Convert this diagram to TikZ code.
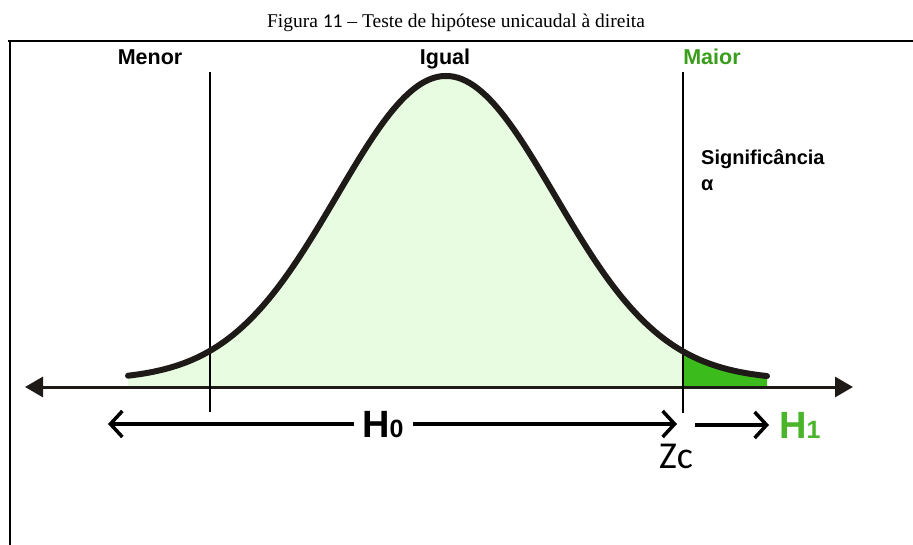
\documentclass[tikz,border=0pt]{standalone}
\usepackage{fontspec}
\setmainfont{Liberation Serif}
\newfontfamily\arialf{Liberation Sans}
\newfontfamily\carlitof{Carlito}
\usetikzlibrary{arrows.meta}
\definecolor{lightfill}{HTML}{E8FCE2}
\definecolor{darkfill}{HTML}{3CBC1C}
\definecolor{maiorgreen}{HTML}{3A9E1C}
\definecolor{hgreen}{HTML}{4AB52A}
\definecolor{curveblack}{HTML}{1E1A18}
\begin{document}
\begin{tikzpicture}[x=1pt,y=-1pt,
  declare function={g(\x)=386-6-304*exp(-0.5*((\x-446)/109)^2);},
  toplabel/.style={font=\arialf\bfseries\fontsize{21.5}{21.5}\selectfont, inner sep=0pt, anchor=base},
  frameline/.style={line width=2.5pt, black},
  divider/.style={line width=1.5pt, black},
  axisline/.style={line width=3pt, curveblack, {Triangle[length=18pt,width=20pt]}-{Triangle[length=18pt,width=20pt]}},
  rangearrow/.style={line width=3.5pt, black, -{Straight Barb[length=12pt,width=26pt]}},
  bigH/.style={font=\arialf\bfseries\fontsize{38}{38}\selectfont, inner sep=0pt, anchor=base west}
]
\useasboundingbox (0,0) rectangle (913,545);
\fill[white] (0,0) rectangle (913,545);

% caption
\node[anchor=base, inner sep=0pt, font=\fontsize{19.5}{19.5}\selectfont] (caption) at (456,28) {Figura {\carlitof 11} – Teste de hipótese unicaudal à direita};

% frame
\coordinate (ftl) at (10,41);
\coordinate (ftr) at (913,41);
\coordinate (fbl) at (10,545);
\draw[frameline] (8,41) -- (ftr);
\draw[frameline] (ftl) -- (fbl);

% top labels
\node[toplabel] (menor) at (150,65) {Menor};
\node[toplabel] (igual) at (445,65) {Igual};
\node[toplabel, text=maiorgreen] (maior) at (712,65) {Maior};

% fills
\fill[lightfill] (128,386) -- plot[domain=128:767, samples=120] (\x,{g(\x)}) -- (767,386) -- cycle;
\fill[darkfill] (683,386) -- plot[domain=683:767, samples=40] (\x,{g(\x)}) -- (767,386) -- cycle;

% axis
\coordinate (axl) at (25,387);
\coordinate (axr) at (853,387);
\draw[axisline] (axl) -- (axr);

% dividers
\coordinate (d1t) at (210,72);
\coordinate (d1b) at (210,412);
\coordinate (d2t) at (683,72);
\coordinate (d2b) at (683,413);
\draw[divider] (d1t) -- (d1b);
\draw[divider] (d2t) -- (d2b);

% curve
\draw[line width=6pt, curveblack, line cap=round] plot[domain=128:767, samples=160] (\x,{g(\x)});

% significance label
\node[anchor=base west, inner sep=0pt, align=left, font=\arialf\bfseries\fontsize{20}{26}\selectfont] (sig) at (701,191) {Significância\\α};

% H0 and arrows
\node[bigH] (h0) at (362,437) {H\fontsize{25}{25}\selectfont 0};
\coordinate (h0l) at (108,424);
\coordinate (h0r) at (677,424);
\draw[rangearrow] ([xshift=-8pt]h0.west |- h0l) -- (h0l);
\draw[rangearrow] ([xshift=9pt]h0.east |- h0r) -- (h0r);

% Zc
\node[anchor=base, inner sep=0pt, font=\carlitof\fontsize{38}{38}\selectfont] (zc) at (676,468) {Zc};

% H1
\node[bigH, text=hgreen] (h1) at (779,438) {H\fontsize{25}{25}\selectfont 1};
\coordinate (h1s) at (695,425);
\draw[rangearrow] (h1s) -- ([xshift=-10pt]h1.west |- h1s);
\end{tikzpicture}
\end{document}
